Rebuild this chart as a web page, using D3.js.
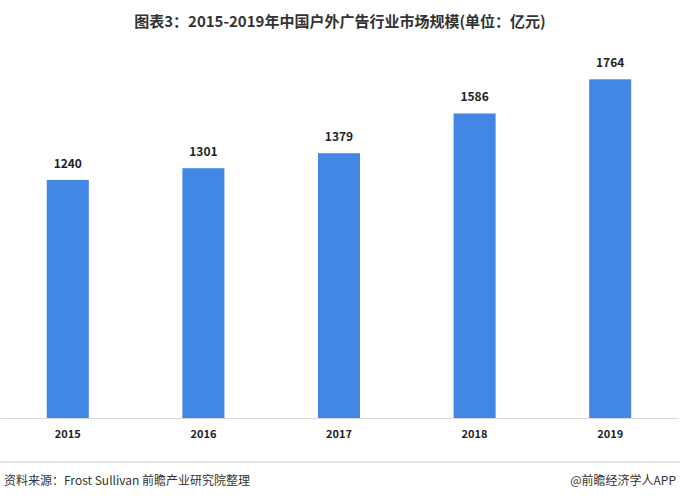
<!DOCTYPE html><html><head><meta charset="utf-8">
<script src="https://cdn.jsdelivr.net/npm/d3@7"></script>
<style>body{margin:0;background:#fff}</style></head><body>
<svg id="c" width="680" height="501"></svg>
<script>
const years=["2015","2016","2017","2018","2019"];
const values=[1240,1301,1379,1586,1764];
const svg=d3.select("#c");
const font="'Noto Sans CJK SC','Noto Sans',sans-serif";
const x=d3.scaleBand().domain(years).range([0,678]).paddingInner(0.69).paddingOuter(0.345);
const y=d3.scaleLinear().domain([0,2000]).range([418,34]);
svg.append("text").attr("x",340).attr("y",27).attr("text-anchor","middle").attr("font-family",font).attr("font-weight","bold").attr("font-size",15).attr("fill","#333").text("图表3：2015-2019年中国户外广告行业市场规模(单位：亿元)");
svg.selectAll("rect.b").data(values).join("rect").attr("x",(d,i)=>x(years[i])).attr("y",d=>y(d)).attr("width",x.bandwidth()).attr("height",d=>y(0)-y(d)).attr("fill","#4287e3");
svg.selectAll("text.v").data(values).join("text").attr("x",(d,i)=>x(years[i])+x.bandwidth()/2).attr("y",d=>y(d)-12).attr("text-anchor","middle").attr("font-family",font).attr("font-weight","bold").attr("font-size",12).attr("fill","#222").text(d=>d);
const ax=svg.append("g").attr("transform","translate(0,418)").call(d3.axisBottom(x).tickSize(0).tickPadding(12));
ax.select(".domain").attr("stroke","#d9d9d9");
ax.selectAll("text").attr("font-family",font).attr("font-weight","bold").attr("font-size",11).attr("fill","#222");
svg.append("line").attr("x1",0).attr("x2",680).attr("y1",462).attr("y2",462).attr("stroke","#ccc");
svg.append("text").attr("x",4).attr("y",485).attr("font-family",font).attr("font-size",12).attr("fill","#333").text("资料来源：Frost Sullivan 前瞻产业研究院整理");
svg.append("text").attr("x",676).attr("y",485).attr("text-anchor","end").attr("font-family",font).attr("font-size",12).attr("fill","#333").text("@前瞻经济学人APP");
</script></body></html>
